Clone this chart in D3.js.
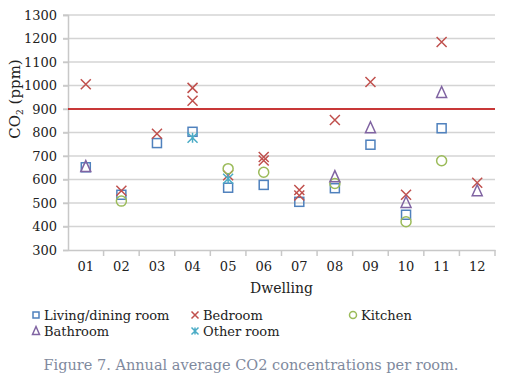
<!DOCTYPE html>
<html lang="en">
<head>
  <meta charset="UTF-8">
  <title>Annual average CO2 per room</title>
  <script src="https://cdn.jsdelivr.net/npm/d3@7"></script>
  <style>
    body { margin: 0; background: #fff; }
    svg { display: block; font-family: "DejaVu Serif", "Liberation Serif", serif; }
    .tick text { fill: #222; }
  </style>
</head>
<body>
  <svg id="chart" width="505" height="380"></svg>
  <script>
    // dwellings on the x axis
    const dwellings = ['01','02','03','04','05','06','07','08','09','10','11','12'];
    const yTicks = [300,400,500,600,700,800,900,1000,1100,1200,1300];
    const limit = 900;

    // values per dwelling (a list, since some dwellings have several rooms of a kind)
    const living   = [[652],[535],[755],[803],[565],[577],[505],[563],[748],[450],[818],[]];
    const bedroom  = [[1005],[552],[795],[990,935],[618],[696,681],[555,532],[853],[1015],[535],[1185],[586]];
    const kitchen  = [[],[508],[],[],[646],[631],[],[583],[],[420],[680],[]];
    const bathroom = [[655],[],[],[],[],[],[],[612],[820],[502],[970],[552]];
    const other    = [[],[],[],[778],[603],[],[],[],[],[],[],[]];

    const series = [
      { name: 'Living/dining room', vals: living,   color: '#4f81bd', shape: 'square' },
      { name: 'Bedroom',            vals: bedroom,  color: '#c0504d', shape: 'cross' },
      { name: 'Kitchen',            vals: kitchen,  color: '#9bbb59', shape: 'circle' },
      { name: 'Bathroom',           vals: bathroom, color: '#8064a2', shape: 'triangle' },
      { name: 'Other room',         vals: other,    color: '#4bacc6', shape: 'star' }
    ];

    const svg = d3.select('#chart');
    const mLeft = 68, mRight = 495, mTop = 15, mBottom = 250;

    const x = d3.scaleBand().domain(dwellings).range([mLeft, mRight]);
    const y = d3.scaleLinear().domain([300, 1300]).range([mBottom, mTop]);

    // grid lines
    svg.append('g')
      .selectAll('line')
      .data(yTicks.slice(1))
      .join('line')
        .attr('x1', mLeft - 5).attr('x2', mRight)
        .attr('y1', d => y(d)).attr('y2', d => y(d))
        .attr('stroke', '#d4d4d4').attr('stroke-width', 1.5);

    // y axis
    const yAxis = svg.append('g')
      .attr('transform', `translate(${mLeft},0)`)
      .call(d3.axisLeft(y).tickValues(yTicks).tickFormat(d3.format('d')).tickSize(5).tickPadding(6));
    yAxis.select('.domain').attr('stroke', '#c8c8c8').attr('stroke-width', 1.5);
    yAxis.selectAll('.tick line').attr('stroke', '#c8c8c8').attr('stroke-width', 1.5);
    yAxis.selectAll('text').attr('font-size', 13).attr('font-family', 'DejaVu Serif');

    // x axis with ticks between categories
    const xAxis = svg.append('g')
      .attr('transform', `translate(0,${mBottom})`)
      .call(d3.axisBottom(x).tickSize(0).tickPadding(12));
    xAxis.select('.domain').attr('stroke', '#c8c8c8').attr('stroke-width', 1.5);
    xAxis.selectAll('text').attr('font-size', 13).attr('font-family', 'DejaVu Serif');
    svg.append('g')
      .selectAll('line')
      .data(dwellings)
      .join('line')
        .attr('x1', d => x(d) + x.bandwidth()).attr('x2', d => x(d) + x.bandwidth())
        .attr('y1', mBottom).attr('y2', mBottom + 6)
        .attr('stroke', '#c8c8c8').attr('stroke-width', 1.5);

    // threshold line
    svg.append('line')
      .attr('x1', mLeft).attr('x2', mRight)
      .attr('y1', y(limit)).attr('y2', y(limit))
      .attr('stroke', '#c00000').attr('stroke-width', 1.5);

    // marker drawing
    function marker(g, shape, color, s) {
      const h = s / 2;
      if (shape === 'square') {
        g.append('rect').attr('x', -h + 0.5).attr('y', -h + 0.5).attr('width', s - 1).attr('height', s - 1)
          .attr('fill', 'none').attr('stroke', color).attr('stroke-width', 1.5);
      } else if (shape === 'cross') {
        g.append('path').attr('d', `M${-h},${-h}L${h},${h}M${-h},${h}L${h},${-h}`)
          .attr('stroke', color).attr('stroke-width', 1.5);
      } else if (shape === 'circle') {
        g.append('circle').attr('r', h)
          .attr('fill', 'none').attr('stroke', color).attr('stroke-width', 1.5);
      } else if (shape === 'triangle') {
        g.append('path').attr('d', `M0,${-h - 1}L${h},${h}L${-h},${h}Z`)
          .attr('fill', 'none').attr('stroke', color).attr('stroke-width', 1.5);
      } else {
        g.append('path').attr('d', `M${-h},${-h}L${h},${h}M${-h},${h}L${h},${-h}M0,${-h}L0,${h}`)
          .attr('stroke', color).attr('stroke-width', 1.5);
      }
    }

    series.forEach(s => {
      const pts = [];
      s.vals.forEach((arr, i) => arr.forEach(v => pts.push({ d: dwellings[i], v })));
      pts.forEach(p => {
        const g = svg.append('g')
          .attr('transform', `translate(${x(p.d) + x.bandwidth() / 2},${y(p.v)})`);
        marker(g, s.shape, s.color, 10);
      });
    });

    // axis titles
    const yl = svg.append('text')
      .attr('transform', `translate(20,99) rotate(-90)`)
      .attr('text-anchor', 'middle')
      .attr('font-size', 15)
      .attr('fill', '#222');
    yl.append('tspan').text('CO');
    yl.append('tspan').text('2').attr('font-size', 9).attr('dy', 3);
    yl.append('tspan').text(' (ppm)').attr('dy', -3);

    svg.append('text')
      .attr('x', (mLeft + mRight) / 2).attr('y', 293)
      .attr('text-anchor', 'middle')
      .attr('font-size', 14).attr('fill', '#222')
      .text('Dwelling');

    // legend
    const legendPos = [[36, 315], [195, 315], [353, 315], [36, 331], [195, 331]];
    series.forEach((s, i) => {
      const [lx, ly] = legendPos[i];
      const g = svg.append('g').attr('transform', `translate(${lx},${ly})`);
      marker(g, s.shape, s.color, 7);
      g.append('text').attr('x', 8).attr('y', 5)
        .attr('font-size', 13).attr('fill', '#222')
        .text(s.name);
    });

    // caption
    svg.append('text')
      .attr('x', 251).attr('y', 370)
      .attr('text-anchor', 'middle')
      .attr('font-size', 14.5).attr('fill', '#7f8a9e')
      .text('Figure 7. Annual average CO2 concentrations per room.');
  </script>
</body>
</html>
